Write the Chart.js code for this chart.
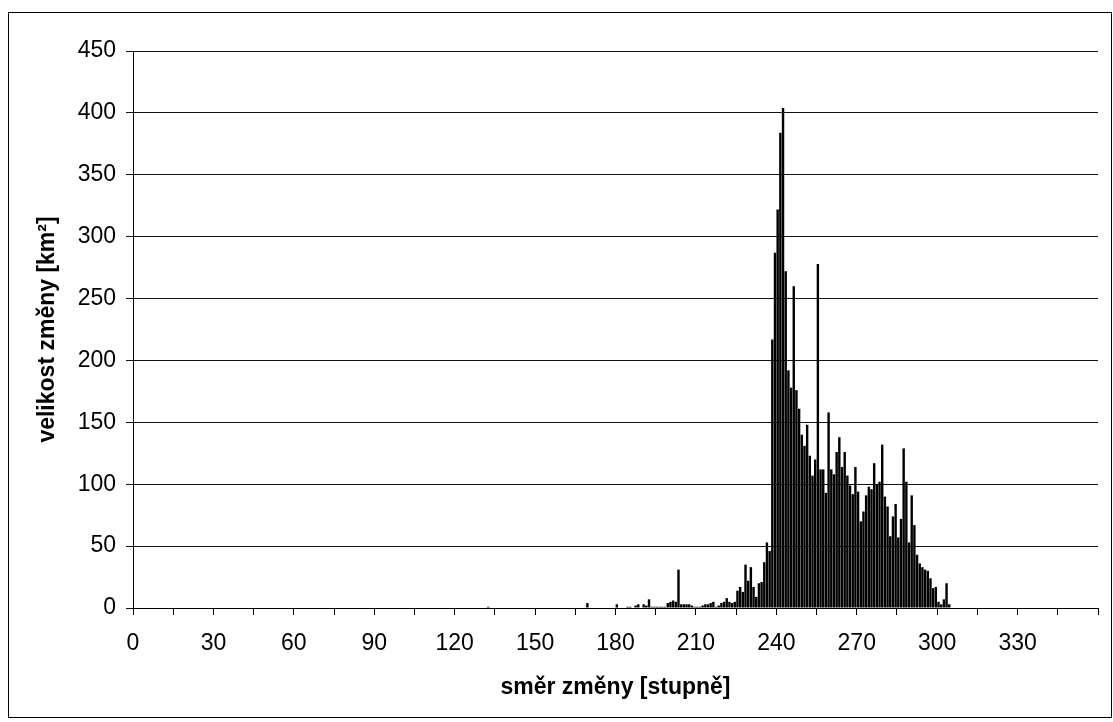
<!DOCTYPE html>
<html>
<head>
<meta charset="utf-8">
<script src="https://cdn.jsdelivr.net/npm/chart.js@4/dist/chart.umd.min.js"></script>
<style>
  html, body { margin: 0; padding: 0; background: #fff; }
  #wrap  { position: relative; width: 1113px; height: 722px; }
  #frame { position: absolute; left: 8px; top: 12px; width: 1104px; height: 706px;
           border: 1px solid #000; box-sizing: border-box; pointer-events: none; }
  canvas { position: absolute; left: 0; top: 0; }
</style>
</head>
<body>
<div id="wrap">
  <canvas id="cSmer" width="1113" height="722"></canvas>
  <div id="frame"></div>
</div>
<script>
// ── Data: směr změny (°) → velikost změny (km²) ─────────────
const smer = [
  132, 169, 180, 184, 185, 187, 188, 190, 191, 192, 193, 194, 195, 196, 197, 198, 199,
  200, 201, 202, 203, 204, 205, 206, 207, 208, 209, 210, 211, 212, 213, 214, 215, 216, 217, 218, 219,
  220, 221, 222, 223, 224, 225, 226, 227, 228, 229, 230, 231, 232, 233, 234, 235, 236, 237, 238, 239,
  240, 241, 242, 243, 244, 245, 246, 247, 248, 249, 250, 251, 252, 253, 254, 255, 256, 257, 258, 259,
  260, 261, 262, 263, 264, 265, 266, 267, 268, 269, 270, 271, 272, 273, 274, 275, 276, 277, 278, 279,
  280, 281, 282, 283, 284, 285, 286, 287, 288, 289, 290, 291, 292, 293, 294, 295, 296, 297, 298, 299,
  300, 301, 302, 303, 304
];
const velikost = [
  1, 4, 3, 1, 1, 2, 3, 3, 2, 7, 1, 1, 1, 1, 1, 1, 4,
  5, 6, 5, 31, 3, 3, 3, 3, 2, 1, 1, 1, 2, 3, 3, 4, 5, 1, 2, 4,
  5, 8, 5, 4, 5, 14, 17, 13, 35, 22, 33, 17, 9, 20, 21, 37, 53, 46, 217, 287,
  322, 384, 404, 272, 192, 178, 260, 176, 161, 140, 131, 148, 123, 107, 120, 278, 112, 112, 93, 158,
  112, 108, 126, 138, 114, 126, 107, 99, 92, 114, 94, 70, 78, 91, 98, 96, 117, 100, 102, 132,
  90, 82, 58, 74, 84, 57, 72, 129, 102, 53, 91, 67, 43, 36, 33, 31, 30, 24, 16, 17,
  5, 3, 7, 20, 3
];

// ── Axis setup ──────────────────────────────────────────────
const xMin = 0, xMax = 360, xStep = 15, xLabelStep = 30;
const yMin = 0, yMax = 450, yStep = 50;

const FONT = '"Liberation Sans", Arial, sans-serif';
const tickFont  = { family: FONT, size: 23 };
const titleFont = { family: FONT, size: 23, weight: 'bold' };

// each bar sits between degree d and d+1
const points = smer.map((d, i) => ({ x: d + 0.5, y: velikost[i] }));

new Chart(document.getElementById('cSmer').getContext('2d'), {
  type: 'bar',
  data: {
    datasets: [{
      data: points,
      backgroundColor: '#000',
      borderWidth: 0,
      categoryPercentage: 1,
      barPercentage: 0.9,
    }]
  },
  options: {
    responsive: false, animation: false,
    layout: { padding: { top: 51, right: 5, bottom: 0, left: 0 } },
    plugins: { legend: { display: false }, tooltip: { enabled: false } },
    scales: {
      x: {
        type: 'linear', min: xMin, max: xMax, offset: false,
        afterFit: s => { s.height = 114; },
        grid:   { offset: false, drawOnChartArea: false, tickLength: 7, color: '#000' },
        border: { color: '#000' },
        ticks: {
          stepSize: xStep, autoSkip: false, maxRotation: 0, padding: 15,
          color: '#000', font: tickFont,
          callback: v => (v % xLabelStep === 0 && v < xMax) ? v : '',
        },
        title: { display: true, text: 'směr změny [stupně]', color: '#000', font: titleFont,
                 padding: { top: 0, bottom: 21 } },
      },
      y: {
        min: yMin, max: yMax,
        afterFit: s => { s.width = 133; },
        grid:   { color: '#111', tickLength: 7 },
        border: { color: '#000' },
        ticks:  { stepSize: yStep, padding: 10, color: '#000', font: tickFont },
        title:  { display: true, text: 'velikost změny [km²]', color: '#000', font: titleFont,
                  padding: { top: 34, bottom: 0 } },
      },
    },
  },
});
</script>
</body>
</html>
